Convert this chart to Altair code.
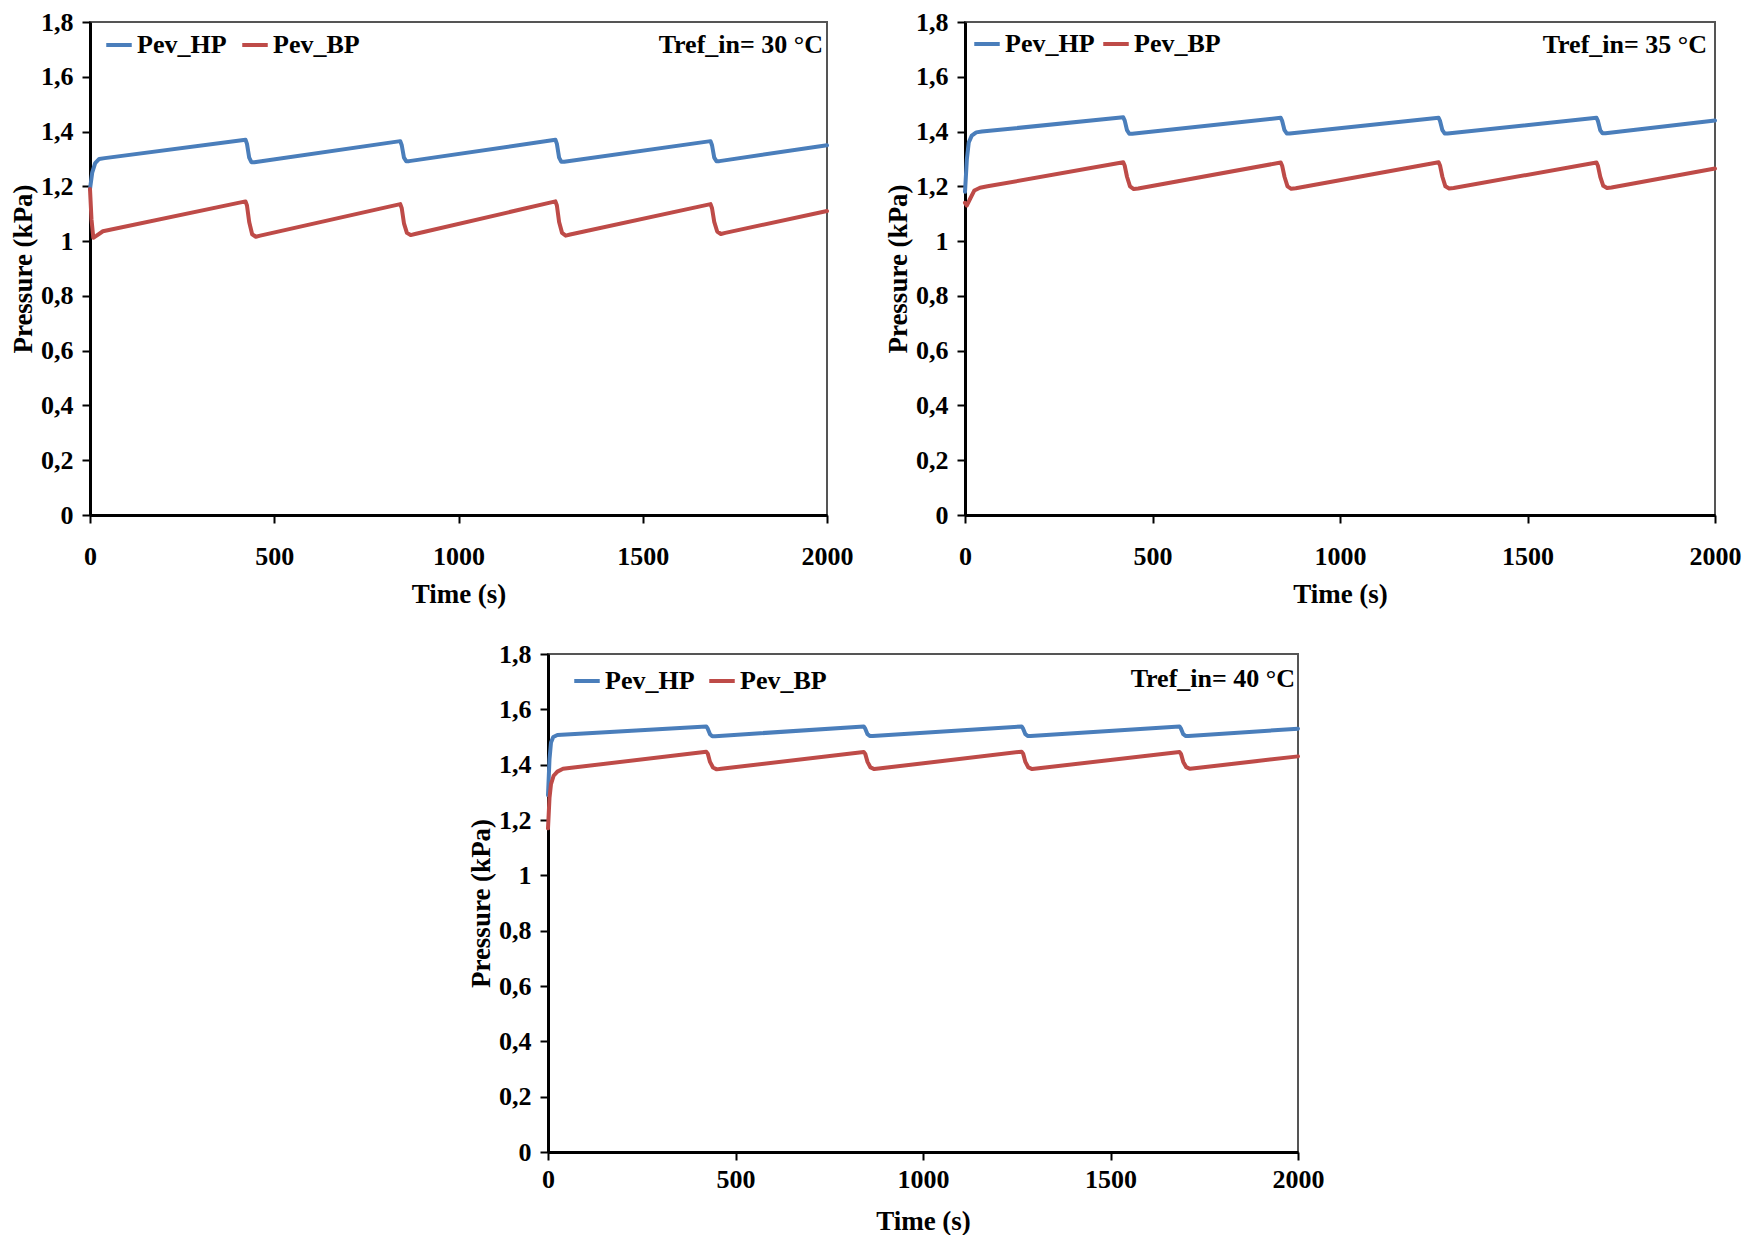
import altair as alt
import pandas as pd

series_names = ["Pev_HP", "Pev_BP"]
series_colors = ["#4A7EBB", "#BE4B48"]
x_ticks = [0, 500, 1000, 1500, 2000]
y_ticks = [0, 0.2, 0.4, 0.6, 0.8, 1, 1.2, 1.4, 1.6, 1.8]
annotations = ["Tref_in= 30 °C", "Tref_in= 35 °C", "Tref_in= 40 °C"]

# ---- Tref_in = 30 °C ----
t_hp30 = [0, 6, 14, 25, 40, 422, 426, 432, 438, 446, 842, 846, 852, 858, 866,
          1263, 1267, 1273, 1279, 1287, 1684, 1688, 1694, 1700, 1708, 2000]
p_hp30 = [1.19, 1.25, 1.285, 1.300, 1.303, 1.370, 1.355, 1.305, 1.288, 1.288,
          1.365, 1.350, 1.305, 1.292, 1.292, 1.370, 1.355, 1.305, 1.290, 1.290,
          1.365, 1.350, 1.305, 1.292, 1.292, 1.350]
t_bp30 = [0, 4, 9, 18, 35, 422, 426, 432, 440, 450, 462, 842, 846, 852, 860, 870, 882,
          1263, 1267, 1273, 1281, 1291, 1303, 1684, 1688, 1694, 1702, 1712, 1724, 2000]
p_bp30 = [1.19, 1.08, 1.012, 1.020, 1.036, 1.145, 1.130, 1.070, 1.025, 1.016, 1.020,
          1.135, 1.120, 1.065, 1.030, 1.022, 1.026, 1.145, 1.130, 1.070, 1.030, 1.020, 1.024,
          1.135, 1.120, 1.070, 1.035, 1.026, 1.030, 1.110]

# ---- Tref_in = 35 °C ----
t_hp35 = [0, 5, 10, 18, 30, 45, 422, 426, 432, 438, 446, 842, 846, 852, 858, 866,
          1263, 1267, 1273, 1279, 1287, 1684, 1688, 1694, 1700, 1708, 2000]
p_hp35 = [1.18, 1.30, 1.36, 1.385, 1.397, 1.400, 1.452, 1.440, 1.405, 1.392, 1.392,
          1.450, 1.438, 1.405, 1.393, 1.393, 1.450, 1.438, 1.405, 1.393, 1.393,
          1.450, 1.438, 1.405, 1.394, 1.394, 1.440]
t_bp35 = [0, 5, 12, 25, 40, 60, 422, 426, 432, 440, 450, 462, 842, 846, 852, 860, 870, 882,
          1263, 1267, 1273, 1281, 1291, 1303, 1684, 1688, 1694, 1702, 1712, 1724, 2000]
p_bp35 = [1.14, 1.13, 1.15, 1.185, 1.195, 1.200, 1.288, 1.275, 1.235, 1.200, 1.190, 1.192,
          1.287, 1.274, 1.235, 1.200, 1.191, 1.193, 1.288, 1.275, 1.235, 1.200, 1.192, 1.194,
          1.287, 1.274, 1.235, 1.202, 1.194, 1.196, 1.265]

# ---- Tref_in = 40 °C ----
t_hp40 = [0, 4, 8, 14, 25, 422, 426, 432, 438, 446, 842, 846, 852, 858, 866,
          1263, 1267, 1273, 1279, 1287, 1684, 1688, 1694, 1700, 1708, 2000]
p_hp40 = [1.29, 1.42, 1.48, 1.500, 1.507, 1.538, 1.530, 1.510, 1.503, 1.503,
          1.538, 1.530, 1.510, 1.504, 1.504, 1.538, 1.530, 1.510, 1.504, 1.504,
          1.538, 1.530, 1.510, 1.504, 1.504, 1.530]
t_bp40 = [0, 4, 8, 15, 25, 40, 422, 426, 432, 440, 450, 462, 842, 846, 852, 860, 870, 882,
          1263, 1267, 1273, 1281, 1291, 1303, 1684, 1688, 1694, 1702, 1712, 1724, 2000]
p_bp40 = [1.17, 1.28, 1.33, 1.36, 1.375, 1.385, 1.447, 1.440, 1.410, 1.390, 1.383, 1.385,
          1.446, 1.439, 1.410, 1.390, 1.384, 1.386, 1.447, 1.440, 1.410, 1.390, 1.384, 1.386,
          1.446, 1.439, 1.410, 1.391, 1.385, 1.387, 1.430]

FONT = "Liberation Serif"


def panel(t_hp, p_hp, t_bp, p_bp, label, width, height, lx, ly, colpad, tx, ty,
          xlabpad, xtitlepad):
    df = pd.concat([
        pd.DataFrame({"t": t_hp, "p": p_hp, "s": series_names[0]}),
        pd.DataFrame({"t": t_bp, "p": p_bp, "s": series_names[1]}),
    ])
    lines = alt.Chart(df).mark_line(strokeWidth=4, interpolate="linear",
                                    strokeJoin="round", strokeCap="round").encode(
        x=alt.X("t:Q", scale=alt.Scale(domain=[0, 2000], nice=False),
                axis=alt.Axis(values=x_ticks, title="Time (s)", labelFlush=False,
                              format="d", labelPadding=xlabpad, titlePadding=xtitlepad)),
        y=alt.Y("p:Q", scale=alt.Scale(domain=[0, 1.8], nice=False),
                axis=alt.Axis(values=y_ticks, title="Pressure (kPa)",
                              labelExpr="replace(format(datum.value, '~g'), '.', ',')",
                              labelPadding=9, titlePadding=3)),
        color=alt.Color("s:N", scale=alt.Scale(domain=series_names, range=series_colors),
                        legend=alt.Legend(orient="none", legendX=lx, legendY=ly,
                                          direction="horizontal", title=None,
                                          symbolType="stroke", symbolSize=650,
                                          symbolStrokeWidth=4, labelFont=FONT,
                                          labelFontWeight="bold", labelFontSize=26,
                                          labelColor="black", labelOffset=3,
                                          columnPadding=colpad, padding=0)),
    )
    text = alt.Chart(pd.DataFrame({"lab": [label]})).mark_text(
        align="right", baseline="alphabetic", font=FONT, fontWeight="bold",
        fontSize=26, color="black"
    ).encode(x=alt.value(tx), y=alt.value(ty), text="lab:N")
    return alt.layer(lines, text).properties(width=width, height=height)


p1 = panel(t_hp30, p_hp30, t_bp30, p_bp30, annotations[0], 737, 493, 14, 8, 7, 733, 31, 20, 12)
p2 = panel(t_hp35, p_hp35, t_bp35, p_bp35, annotations[1], 750, 493, 7, 7, 0, 742, 31, 20, 12)
p3 = panel(t_hp40, p_hp40, t_bp40, p_bp40, annotations[2], 750, 498, 24, 12, 6, 747, 33, 6, 16)

spacer = alt.Chart(pd.DataFrame({"v": [0]})).mark_point(opacity=0).encode(
    x=alt.value(0), y=alt.value(0)
).properties(width=320, height=498, view=alt.ViewBackground(strokeOpacity=0))

top = alt.hconcat(p1, p2, spacing=138, bounds="flush").resolve_scale(color="independent")
bottom = alt.hconcat(spacer, p3, spacing=138, bounds="flush").resolve_scale(color="independent")

chart = alt.vconcat(top, bottom, spacing=32).resolve_scale(
    color="independent"
).configure(
    padding=0, background="white"
).configure_view(
    stroke="#555555", strokeWidth=2
).configure_axis(
    grid=False, domainColor="black", domainWidth=3, tickColor="black", tickWidth=2,
    tickSize=8, labelFont=FONT, labelFontWeight="bold", labelFontSize=26,
    labelColor="black", titleFont=FONT, titleFontWeight="bold", titleFontSize=27,
    titleColor="black"
)

chart.save("out.html", embed_options={"renderer": "svg", "actions": False})
